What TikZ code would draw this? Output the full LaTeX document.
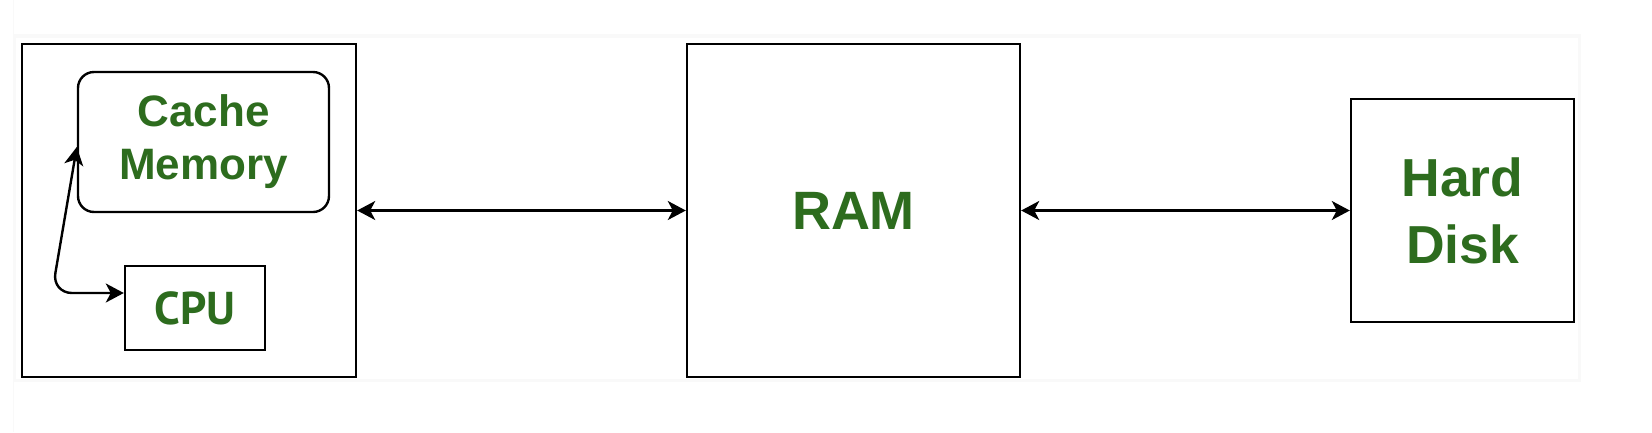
\documentclass[tikz,border=0pt]{standalone}
\usepackage{fontspec}
\setmainfont{Liberation Sans}
\newfontfamily\cpufont{PT Sans}
\usetikzlibrary{arrows.meta}
\definecolor{txtgreen}{RGB}{45,108,30}
\definecolor{faint}{RGB}{249,249,249}
\tikzset{
  box/.style={draw=black, line width=2.4pt, rectangle, inner sep=0pt, font=\bfseries, text=txtgreen, align=center},
  biarrow/.style={line width=2.4pt, {Stealth[length=18pt,width=19pt,inset=5pt]}-{Stealth[length=18pt,width=19pt,inset=5pt]}}
}
\begin{document}
\begin{tikzpicture}[x=1pt,y=-1pt]
\useasboundingbox (0,0) rectangle (1652,432);
\fill[white] (0,0) rectangle (1652,432);
% faint panel shadow
\draw[faint, line width=1pt] (13,0) -- (13,432);
\fill[faint] (13,34) rectangle (1581,382);
\fill[white] (16,38) rectangle (1578,379);

\node[box, minimum width=334pt, minimum height=333pt] (outer) at (189,210.5) {};
\node[box, rounded corners=16pt, minimum width=251pt, minimum height=140pt,
      font=\bfseries\fontsize{44}{53}\selectfont] (cache) at (203.5,142) {Cache\\Memory};
\node[box, minimum width=140pt, minimum height=84pt,
      font=\cpufont\bfseries\fontsize{46}{55}\selectfont] (cpu) at (195,308) {CPU};
\node[box, minimum width=333pt, minimum height=333pt,
      font=\bfseries\fontsize{54}{65}\selectfont] (ram) at (853.5,210.5) {RAM};
\node[box, minimum width=223pt, minimum height=223pt,
      font=\bfseries\fontsize{53.5}{67}\selectfont] (hd) at (1462.5,210.5) {Hard\\Disk};

\draw[biarrow] (outer.east) -- (ram.west);
\draw[biarrow] (ram.east) -- (hd.west);

\coordinate (c1) at (0,147);
\coordinate (c2) at (52,293);
\draw[biarrow, rounded corners=20pt] (cache.west |- c1) -- (c2) -- (cpu.west |- c2);
\end{tikzpicture}
\end{document}
